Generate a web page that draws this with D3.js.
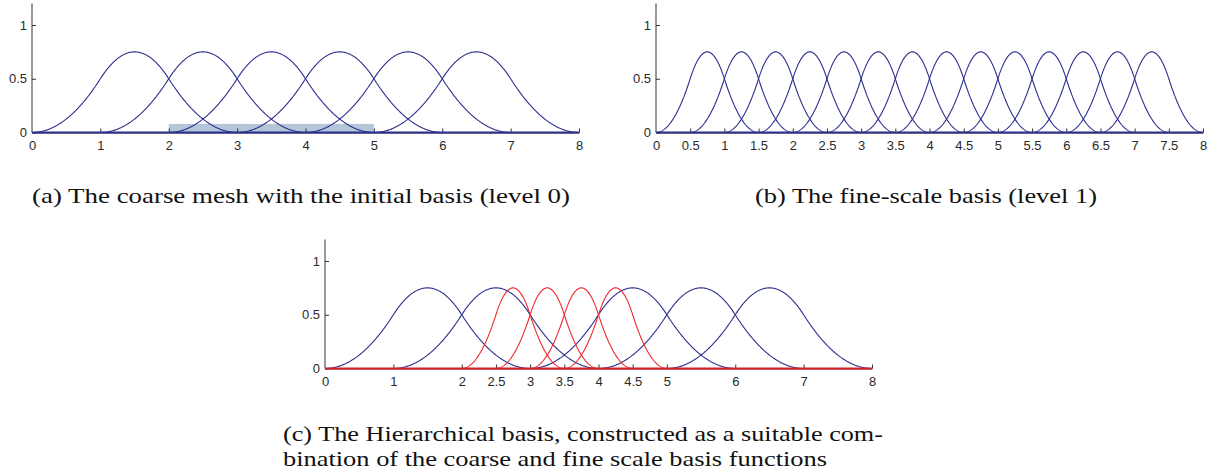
<!DOCTYPE html>
<html>
<head>
<meta charset="utf-8">
<script src="https://cdn.jsdelivr.net/npm/d3@7.9.0/dist/d3.min.js"></script>
<style>
  body { margin: 0; background: #fff; }
  svg { display: block; }
</style>
</head>
<body>
<svg id="chart" width="1217" height="474"></svg>
<script>
// knot-centres of the quadratic B-splines in each panel
const coarseCentres = [1.5, 2.5, 3.5, 4.5, 5.5, 6.5];
const fineCentres = [0.75, 1.25, 1.75, 2.25, 2.75, 3.25, 3.75, 4.25, 4.75, 5.25, 5.75, 6.25, 6.75, 7.25];
const hierCoarseCentres = [1.5, 2.5, 4.5, 5.5, 6.5];
const hierFineCentres = [2.75, 3.25, 3.75, 4.25];

const coarseTicks = [0, 1, 2, 3, 4, 5, 6, 7, 8];
const fineTicks = [0, 0.5, 1, 1.5, 2, 2.5, 3, 3.5, 4, 4.5, 5, 5.5, 6, 6.5, 7, 7.5, 8];
const hierTicks = [0, 1, 2, 2.5, 3, 3.5, 4, 4.5, 5, 6, 7, 8];
const yTicks = [0, 0.5, 1];

// refined region marked on the coarse mesh
const refinedRegion = [2, 5];
const refinedHeight = 0.08;

const captions = {
  a: ['(a) The coarse mesh with the initial basis (level 0)'],
  b: ['(b) The fine-scale basis (level 1)'],
  c: ['(c) The Hierarchical basis, constructed as a suitable com-',
      'bination of the coarse and fine scale basis functions']
};

const blue = '#2d2f8e';
const red = '#ee2a30';
const tickFont = '"Liberation Sans", Arial, sans-serif';
const capFont = 'Liberation Serif';

// uniform quadratic B-spline with spacing h centred at c
function bspline(x, c, h) {
  const t = (x - (c - 1.5 * h)) / h;
  if (t <= 0 || t >= 3) return 0;
  if (t < 1) return t * t / 2;
  if (t < 2) return (-2 * t * t + 6 * t - 3) / 2;
  return (3 - t) * (3 - t) / 2;
}

const samples = d3.range(0, 8.0001, 0.01);
const svg = d3.select('#chart');

function drawPanel(opts) {
  const x = d3.scaleLinear().domain([0, 8]).range([opts.left, opts.left + 547]);
  const y = d3.scaleLinear().domain([0, 1.2]).range([opts.base, opts.base - 129]);
  const g = svg.append('g');

  if (opts.region) {
    g.append('rect')
      .attr('x', x(opts.region[0]))
      .attr('y', y(refinedHeight))
      .attr('width', x(opts.region[1]) - x(opts.region[0]))
      .attr('height', y(0) - y(refinedHeight))
      .attr('fill', '#b5c6da');
  }

  // axes
  const xAxis = d3.axisBottom(x).tickValues(opts.ticks).tickSize(0).tickPadding(4)
    .tickFormat(d3.format('~g'));
  const xg = g.append('g').attr('transform', `translate(0,${y(0)})`).call(xAxis)
    .attr('font-size', 13).attr('font-family', tickFont);
  xg.select('.domain').attr('stroke', '#333');
  xg.selectAll('text').attr('fill', '#2a2a2a').attr('dy', '1.02em');
  xg.selectAll('.tick').filter(d => d !== 0).append('line')
    .attr('y1', 0).attr('y2', -4).attr('stroke', '#333');

  const yAxis = d3.axisLeft(y).tickValues(yTicks).tickSize(-4).tickPadding(5)
    .tickFormat(d3.format('~g'));
  const yg = g.append('g').attr('transform', `translate(${x(0)},0)`).call(yAxis)
    .attr('font-size', 13).attr('font-family', tickFont);
  yg.select('.domain').attr('d', `M0,${y(1.2)}V${y(0)}`).attr('stroke', '#333');
  yg.selectAll('line').attr('stroke', '#333');
  yg.selectAll('text').attr('fill', '#2a2a2a');

  const line = d3.line().x(d => x(d[0])).y(d => y(d[1]));
  opts.series.forEach(s => {
    s.centres.forEach(c => {
      g.append('path')
        .datum(samples.map(v => [v, bspline(v, c, s.h)]))
        .attr('d', line)
        .attr('fill', 'none')
        .attr('stroke', s.color)
        .attr('stroke-width', 1.1);
    });
  });

  // zero line, where every basis function lies on top of the others
  const last = opts.series[opts.series.length - 1];
  g.append('line')
    .attr('x1', x(0)).attr('x2', x(8))
    .attr('y1', y(0)).attr('y2', y(0))
    .attr('stroke', last.baseColor || last.color)
    .attr('stroke-width', 2.2);

  opts.caption.forEach((t, i) => {
    svg.append('text')
      .attr('x', opts.capX)
      .attr('y', opts.capY + i * 25)
      .attr('font-family', capFont)
      .attr('font-size', 22)
      .attr('fill', '#111')
      .attr('textLength', opts.capW[i])
      .attr('lengthAdjust', 'spacingAndGlyphs')
      .text(t);
  });
}

drawPanel({
  left: 32, base: 132.5, ticks: coarseTicks, region: refinedRegion,
  series: [{ centres: coarseCentres, h: 1, color: blue }],
  caption: captions.a, capX: 32, capY: 203, capW: [538]
});

drawPanel({
  left: 656, base: 132.5, ticks: fineTicks,
  series: [{ centres: fineCentres, h: 0.5, color: blue }],
  caption: captions.b, capX: 755, capY: 203, capW: [342]
});

drawPanel({
  left: 325, base: 368.5, ticks: hierTicks,
  series: [
    { centres: hierCoarseCentres, h: 1, color: blue },
    { centres: hierFineCentres, h: 0.5, color: red, baseColor: '#d8202c' }
  ],
  caption: captions.c, capX: 283, capY: 441, capW: [600, 544]
});
</script>
</body>
</html>
